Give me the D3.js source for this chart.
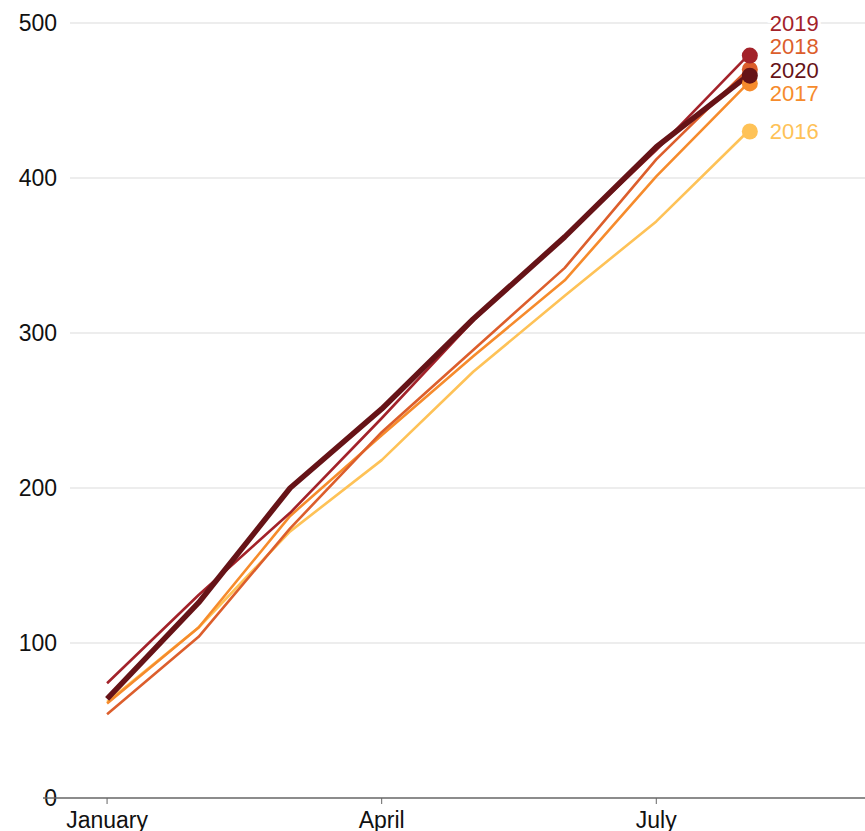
<!DOCTYPE html>
<html>
<head>
<meta charset="utf-8">
<script src="https://cdn.jsdelivr.net/npm/d3@7"></script>
<style>
  body { margin: 0; background: #fff; }
  svg { display: block; font-family: "Liberation Sans", Arial, Helvetica, sans-serif; }
</style>
</head>
<body>
<svg width="865" height="831"></svg>
<script>
// Month index 0 = January
var months = ["January", "February", "March", "April", "May", "June", "July", "August"];
var xTickMonths = [0, 3, 6];
var yTicks = [0, 100, 200, 300, 400, 500];

var years = [2016, 2017, 2018, 2019, 2020];
var values2016 = [62, 110, 172, 218, 275, 324, 372, 430];
var values2017 = [61, 110, 182, 234, 285, 334, 401, 461];
var values2018 = [54, 104, 174, 236, 289, 342, 412, 470];
var values2019 = [74, 131, 184, 245, 308, 362, 418, 479];
var values2020 = [64, 126, 200, 251, 309, 362, 420, 466];
var yearValues = [values2016, values2017, values2018, values2019, values2020];

var yearColors = ["#fec257", "#f68b2c", "#dc5e2c", "#a3222a", "#661317"];

var width = 865, height = 831;
var svg = d3.select("svg");

var xScale = d3.scaleLinear().domain([-0.7, 8.28]).range([43, 865]);
var yScale = d3.scaleLinear().domain([0, 500]).range([798, 23]);

// Gridlines
svg.append("g")
    .selectAll("line")
    .data(yTicks.filter(d => d > 0))
    .join("line")
    .attr("x1", 70)
    .attr("x2", width)
    .attr("y1", d => yScale(d))
    .attr("y2", d => yScale(d))
    .attr("stroke", "#dcdcdc")
    .attr("stroke-width", 1.2);

// Y tick labels
svg.append("g")
    .selectAll("text")
    .data(yTicks)
    .join("text")
    .attr("x", 57)
    .attr("y", d => yScale(d))
    .attr("dy", "0.35em")
    .attr("text-anchor", "end")
    .attr("font-size", 23)
    .attr("fill", "#111")
    .text(d => d);

// X axis
var xAxis = svg.append("g").attr("transform", "translate(0," + yScale(0) + ")");
xAxis.append("line")
    .attr("x1", 43)
    .attr("x2", width)
    .attr("stroke", "#666")
    .attr("stroke-width", 1.5);
xAxis.selectAll("line.tick")
    .data(xTickMonths)
    .join("line")
    .attr("class", "tick")
    .attr("x1", d => xScale(d))
    .attr("x2", d => xScale(d))
    .attr("y1", 0)
    .attr("y2", 6)
    .attr("stroke", "#666")
    .attr("stroke-width", 1);
xAxis.selectAll("text")
    .data(xTickMonths)
    .join("text")
    .attr("x", d => xScale(d))
    .attr("y", 22)
    .attr("dy", "0.35em")
    .attr("text-anchor", "middle")
    .attr("font-size", 23)
    .attr("fill", "#111")
    .text(d => months[d]);

var line = d3.line()
    .x((d, i) => xScale(i))
    .y(d => yScale(d));

var series = years.map((year, i) => ({
    year: year,
    values: yearValues[i],
    color: yearColors[i],
    last: yearValues[i][yearValues[i].length - 1]
}));

// Lines
svg.append("g")
    .selectAll("path")
    .data(series)
    .join("path")
    .attr("d", d => line(d.values))
    .attr("fill", "none")
    .attr("stroke", d => d.color)
    .attr("stroke-width", d => d.year === 2020 ? 5.5 : 2.6)
    .attr("stroke-linejoin", "round");

// End dots
var lastIndex = months.length - 1;
svg.append("g")
    .selectAll("circle")
    .data(series)
    .join("circle")
    .attr("cx", xScale(lastIndex) + 2)
    .attr("cy", d => yScale(d.last))
    .attr("r", 8)
    .attr("fill", d => d.color);

// Label placement: push up from the bottom, then clamp to the top of the plot
var spacing = 23.5;
var labels = series.map(d => ({ s: d, y: yScale(d.last) }))
    .sort((a, b) => a.y - b.y);
for (var i = labels.length - 2; i >= 0; i--) {
    labels[i].y = Math.min(labels[i].y, labels[i + 1].y - spacing);
}
labels[0].y = Math.max(labels[0].y, yScale(500));
for (var j = 1; j < labels.length; j++) {
    labels[j].y = Math.max(labels[j].y, labels[j - 1].y + spacing);
}

svg.append("g")
    .selectAll("text")
    .data(labels)
    .join("text")
    .attr("x", xScale(lastIndex) + 22)
    .attr("y", d => d.y)
    .attr("dy", "0.35em")
    .attr("font-size", 22)
    .attr("fill", d => d.s.color)
    .attr("stroke", "#fff")
    .attr("stroke-width", 6)
    .attr("paint-order", "stroke")
    .text(d => d.s.year);
</script>
</body>
</html>
